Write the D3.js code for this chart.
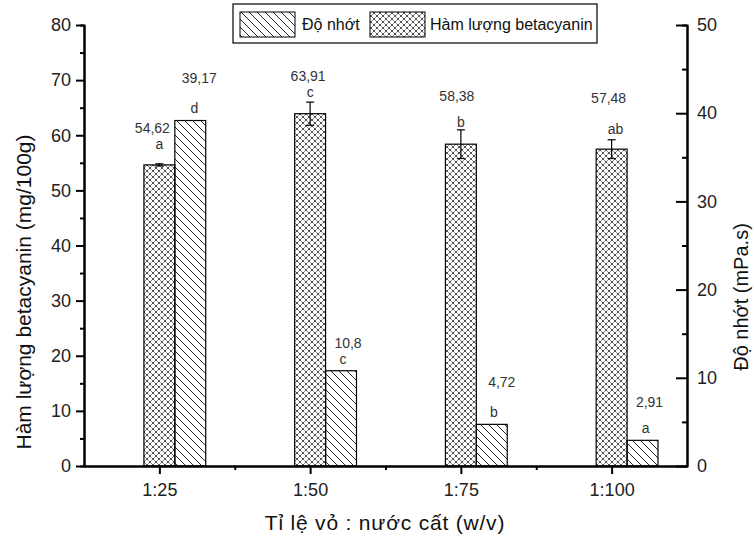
<!DOCTYPE html>
<html>
<head>
<meta charset="utf-8">
<script src="https://cdn.jsdelivr.net/npm/d3@7"></script>
<style>
  body { margin: 0; background: #fff; }
  svg { font-family: "Liberation Sans", Arial, sans-serif; }
</style>
</head>
<body>
<div id="chart"></div>
<script>
// data
const ratios = ['1:25', '1:50', '1:75', '1:100']
const betacyanin = [54.62, 63.91, 58.38, 57.48]      // left axis, mg/100g
const betacyaninErr = [0.2, 2.1, 2.6, 1.7]
const betacyaninLetters = ['a', 'c', 'b', 'ab']
const viscosity = [39.17, 10.8, 4.72, 2.91]          // right axis, mPa.s
const viscosityLetters = ['d', 'c', 'b', 'a']
const leftTicks = [0, 10, 20, 30, 40, 50, 60, 70, 80]
const rightTicks = [0, 10, 20, 30, 40, 50]

// hand placed annotations in the original (px nudges)
const betaNudge = { letterDy: [15, 5, 3, 6], letterDx: [0, 0, 0, 4], valueDy: [16, 16, 26, 31], valueDx: [-7, -2, -4, -3] }
const viscNudge = { letterDy: [8, 7, 7, 7], letterDx: [4, 2, 2, 3], valueDy: [30, 16, 30, 26], valueDx: [9, 7, 10, 7] }

const width = 754
const height = 545
const margin = { left: 84, right: 67, top: 25, bottom: 79 }
const x0 = margin.left
const x1 = width - margin.right
const y0 = height - margin.bottom
const y1 = margin.top

const fmt = v => String(v).replace('.', ',')

const svg = d3.select('#chart').append('svg')
  .attr('width', width)
  .attr('height', height)

const defs = svg.append('defs')

// "\" hatch
const hatch = defs.append('pattern')
  .attr('id', 'hatch')
  .attr('patternUnits', 'userSpaceOnUse')
  .attr('width', 8).attr('height', 8)
hatch.append('path')
  .attr('d', 'M-2,-2 L10,10 M-2,6 L2,10 M6,-2 L10,2')
  .attr('stroke', '#111').attr('stroke-width', 0.9)

// crosshatch, grey lines with dark knots
const P = 6
const cross = defs.append('pattern')
  .attr('id', 'cross')
  .attr('patternUnits', 'userSpaceOnUse')
  .attr('width', P).attr('height', P)
cross.append('path')
  .attr('d', `M0,0 L${P},${P} M${P},0 L0,${P}`)
  .attr('stroke', '#777').attr('stroke-width', 0.8)
cross.selectAll('circle')
  .data([[P / 2, P / 2], [0, 0], [P, 0], [0, P], [P, P]])
  .join('circle')
  .attr('cx', d => d[0]).attr('cy', d => d[1]).attr('r', 0.8).attr('fill', '#000')

const x = d3.scaleLinear().domain([0.5, ratios.length + 0.5]).range([x0, x1])
const yL = d3.scaleLinear().domain([0, 80]).range([y0, y1])
const yR = d3.scaleLinear().domain([0, 50]).range([y0, y1])
const barW = 0.205

const pos = ratios.map((d, i) => i + 1)

// bars
const bars = svg.append('g')
bars.selectAll('rect.beta')
  .data(betacyanin)
  .join('rect')
  .attr('class', 'beta')
  .attr('x', (d, i) => x(pos[i] - barW / 2))
  .attr('width', x(barW) - x(0))
  .attr('y', d => yL(d))
  .attr('height', d => y0 - yL(d))
  .attr('fill', 'url(#cross)')
  .attr('stroke', '#000').attr('stroke-width', 1.2)

bars.selectAll('rect.visc')
  .data(viscosity)
  .join('rect')
  .attr('class', 'visc')
  .attr('x', (d, i) => x(pos[i] + barW / 2))
  .attr('width', x(barW) - x(0))
  .attr('y', d => yR(d))
  .attr('height', d => y0 - yR(d))
  .attr('fill', 'url(#hatch)')
  .attr('stroke', '#000').attr('stroke-width', 1.2)

// error bars on betacyanin
const err = svg.append('g').attr('stroke', '#000').attr('stroke-width', 1.2)
betacyanin.forEach((v, i) => {
  const cx = x(pos[i])
  const top = yL(v + betacyaninErr[i])
  const bot = yL(v - betacyaninErr[i])
  err.append('line').attr('x1', cx).attr('x2', cx).attr('y1', top).attr('y2', bot)
  err.append('line').attr('x1', cx - 4).attr('x2', cx + 4).attr('y1', top).attr('y2', top)
  err.append('line').attr('x1', cx - 4).attr('x2', cx + 4).attr('y1', bot).attr('y2', bot)
})

// annotations
const ann = svg.append('g').attr('fill', '#333').attr('text-anchor', 'middle')
betacyanin.forEach((v, i) => {
  const cx = x(pos[i])
  const ly = yL(v + betacyaninErr[i]) - betaNudge.letterDy[i]
  ann.append('text').attr('x', cx + betaNudge.letterDx[i]).attr('y', ly)
    .attr('font-size', 14).text(betacyaninLetters[i])
  ann.append('text').attr('x', cx + betaNudge.valueDx[i]).attr('y', ly - betaNudge.valueDy[i])
    .attr('font-size', 14).text(fmt(v))
})
viscosity.forEach((v, i) => {
  const cx = x(pos[i] + barW)
  const ly = yR(v) - viscNudge.letterDy[i]
  ann.append('text').attr('x', cx + viscNudge.letterDx[i]).attr('y', ly)
    .attr('font-size', 14).text(viscosityLetters[i])
  ann.append('text').attr('x', cx + viscNudge.valueDx[i]).attr('y', ly - viscNudge.valueDy[i])
    .attr('font-size', 14).text(fmt(v))
})

// axes
function styleAxis (g) {
  g.select('.domain').attr('stroke', '#000').attr('stroke-width', 2)
  g.selectAll('.tick line').attr('stroke', '#000').attr('stroke-width', 2)
  g.selectAll('.tick text').attr('fill', '#222').attr('font-size', 18)
    .attr('font-family', '"Liberation Sans", Arial, sans-serif')
}

// minor ticks first
svg.append('g')
  .attr('transform', `translate(${x0},0)`)
  .call(d3.axisLeft(yL).tickValues(d3.range(5, 80, 10)).tickSize(4).tickFormat(''))
  .call(styleAxis)
svg.append('g')
  .attr('transform', `translate(${x1},0)`)
  .call(d3.axisRight(yR).tickValues(d3.range(5, 50, 10)).tickSize(-5).tickFormat(''))
  .call(styleAxis)
svg.append('g')
  .attr('transform', `translate(0,${y0})`)
  .call(d3.axisBottom(x).tickValues([1.5, 2.5, 3.5]).tickSize(4).tickSizeOuter(0).tickFormat(''))
  .call(styleAxis)

svg.append('g')
  .attr('transform', `translate(${x0},0)`)
  .call(d3.axisLeft(yL).tickValues(leftTicks).tickSize(8).tickSizeOuter(0).tickPadding(5))
  .call(styleAxis)

svg.append('g')
  .attr('transform', `translate(${x1},0)`)
  .call(d3.axisRight(yR).tickValues(rightTicks).tickSize(-11).tickSizeOuter(0).tickPadding(10))
  .call(styleAxis)

svg.append('g')
  .attr('transform', `translate(0,${y0})`)
  .call(d3.axisBottom(x).tickValues(pos).tickFormat((d, i) => ratios[i]).tickSize(8).tickSizeOuter(0).tickPadding(9))
  .call(styleAxis)

// axis titles
svg.append('text')
  .attr('transform', `translate(31,292) rotate(-90)`)
  .attr('text-anchor', 'middle').attr('font-size', 21).attr('fill', '#111')
  .text('Hàm lượng betacyanin (mg/100g)')

svg.append('text')
  .attr('transform', `translate(748,297) rotate(-90)`)
  .attr('text-anchor', 'middle').attr('font-size', 20).attr('fill', '#111')
  .text('Độ nhớt (mPa.s)')

svg.append('text')
  .attr('x', 385).attr('y', 530)
  .attr('text-anchor', 'middle').attr('font-size', 21).attr('fill', '#111')
  .attr('letter-spacing', 0.8)
  .text('Tỉ lệ vỏ : nước cất (w/v)')

// legend
const lg = svg.append('g').attr('transform', 'translate(233,4)')
lg.append('rect').attr('width', 364).attr('height', 39)
  .attr('fill', '#fff').attr('stroke', '#000').attr('stroke-width', 1.2)
const items = [
  { label: 'Độ nhớt', fill: 'url(#hatch)', sx: 7, tx: 69 },
  { label: 'Hàm lượng betacyanin', fill: 'url(#cross)', sx: 137, tx: 197 }
]
items.forEach(it => {
  lg.append('rect').attr('x', it.sx).attr('y', 8).attr('width', 55).attr('height', 25)
    .attr('fill', it.fill).attr('stroke', '#000').attr('stroke-width', 1)
  lg.append('text').attr('x', it.tx).attr('y', 26).attr('font-size', 16).attr('fill', '#111')
    .text(it.label)
})
</script>
</body>
</html>
